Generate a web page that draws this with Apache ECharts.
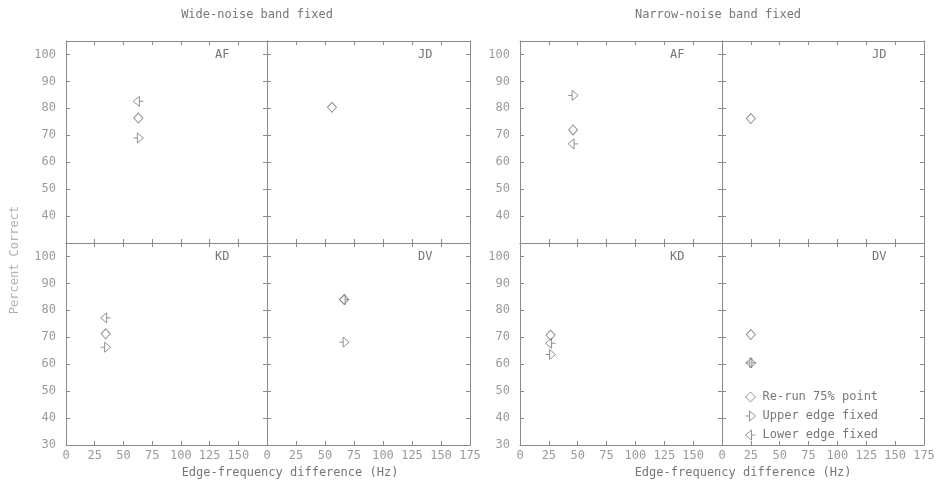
<!DOCTYPE html>
<html>
<head>
<meta charset="utf-8">
<script src="https://cdn.jsdelivr.net/npm/echarts@6/dist/echarts.min.js"></script>
<style>
  html, body { margin: 0; padding: 0; background: #fff; }
  #chart { width: 938px; height: 484px; }
</style>
</head>
<body>
<div id="chart"></div>
<script>
// Subjects, laid out AF | JD over KD | DV in each panel
const subjects = ['AF', 'JD', 'KD', 'DV'];
const panelTitles = ['Wide-noise band fixed', 'Narrow-noise band fixed'];
const seriesNames = ['Re-run 75% point', 'Upper edge fixed', 'Lower edge fixed'];

// [edge-frequency difference (Hz), percent correct] per subject; null = not measured
const wideRerun   = [[63, 76.4], [56, 80.4], [34.5, 71.3], [66.5, 84.0]];
const wideUpper   = [[63, 69.0], null,       [34.5, 66.3], [66.5, 68.2]];
const wideLower   = [[63, 82.6], null,       [34.5, 77.2], [66.5, 84.0]];
const narrowRerun = [[46, 72.0], [25, 76.2], [26.5, 70.8], [25, 71.0]];
const narrowUpper = [[46, 84.8], null,       [26.5, 63.6], [25, 60.5]];
const narrowLower = [[46, 66.8], null,       [26.5, 67.8], [25, 60.5]];

const xTicks = [0, 25, 50, 75, 100, 125, 150, 175];
const yTicks = [30, 40, 50, 60, 70, 80, 90, 100];
const yTop = 105;

const panelData = [
  [wideRerun, wideUpper, wideLower],
  [narrowRerun, narrowUpper, narrowLower]
];

// Layout of the two 2x2 panels (pixels)
const panelCols = [[66, 267, 470], [520, 722, 924]];
const rowEdges = [41, 243, 445];

const LINE = '#8a8a8a';
const LABEL = '#9a9a9a';
const TEXT = '#777';
const FONT = 'DejaVu Sans Mono';

const symDiamond = 'diamond';
const symUpper = 'path://M0,5L4,5M4,0L4,10L10,5Z';
const symLower = 'path://M10,5L6,5M6,0L6,10L0,5Z';
const symbols = [symDiamond, symUpper, symLower];
const symbolSizes = [[9, 10], [10, 10], [10, 10]];

const grids = [], xAxes = [], yAxes = [], series = [], graphics = [];

function axisCommon() {
  return {
    type: 'value',
    axisLine: { show: true, onZero: false, lineStyle: { color: LINE, width: 1 } },
    axisTick: { show: true, inside: true, length: 4, lineStyle: { color: LINE } },
    splitLine: { show: false },
    axisLabel: { show: false }
  };
}

panelCols.forEach((cols, p) => {
  subjects.forEach((subj, s) => {
    const row = Math.floor(s / 2), col = s % 2;
    const x0 = cols[col], x1 = cols[col + 1];
    const y0 = rowEdges[row], y1 = rowEdges[row + 1];
    const gi = grids.length;
    grids.push({ left: x0, top: y0, width: x1 - x0, height: y1 - y0 });

    const xb = Object.assign(axisCommon(), {
      gridIndex: gi, position: 'bottom',
      min: xTicks[0], max: xTicks[xTicks.length - 1], interval: 25
    });
    if (row === 1) {
      xb.axisLabel = {
        show: true, interval: 0, margin: 5, color: LABEL,
        fontFamily: FONT, fontSize: 12,
        formatter: v => (col === 0 && v === 175) ? '' : String(v)
      };
    }
    const xt = Object.assign(axisCommon(), {
      gridIndex: gi, position: 'top',
      min: xTicks[0], max: xTicks[xTicks.length - 1], interval: 25
    });
    xAxes.push(xb, xt);

    const yl = Object.assign(axisCommon(), {
      gridIndex: gi, position: 'left', min: yTicks[0], max: yTop, interval: 10
    });
    if (col === 0) {
      yl.axisLabel = {
        show: true, margin: 10, color: LABEL, fontFamily: FONT, fontSize: 12,
        formatter: v => (yTicks.indexOf(v) < 0 || (row === 0 && v === 30)) ? '' : String(v)
      };
    }
    const yr = Object.assign(axisCommon(), {
      gridIndex: gi, position: 'right', min: yTicks[0], max: yTop, interval: 10
    });
    yAxes.push(yl, yr);

    panelData[p].forEach((arr, k) => {
      const pt = arr[s];
      if (!pt) return;
      series.push({
        type: 'scatter',
        name: seriesNames[k],
        xAxisIndex: 2 * gi, yAxisIndex: 2 * gi,
        data: [pt],
        symbol: symbols[k],
        symbolSize: symbolSizes[k],
        symbolKeepAspect: true,
        itemStyle: { color: 'rgba(255,255,255,0)', borderColor: '#777', borderWidth: 1 },
        emphasis: { disabled: true },
        z: 5
      });
    });

    // subject label in the upper right of each cell
    graphics.push({
      type: 'text', left: x1 - 52, top: y0 + 8,
      style: { text: subj, font: '12px ' + FONT, fill: TEXT }
    });
  });

  // panel title and x-axis title
  graphics.push({
    type: 'text', x: p === 0 ? 257 : 718, y: 15,
    style: { text: panelTitles[p], font: '12px ' + FONT, fill: TEXT, textAlign: 'center', textVerticalAlign: 'middle' }
  });
  graphics.push({
    type: 'text', x: p === 0 ? 290 : 743, y: 473,
    style: { text: 'Edge-frequency difference (Hz)', font: '12px ' + FONT, fill: TEXT, textAlign: 'center', textVerticalAlign: 'middle' }
  });
});

// shared y-axis title
graphics.push({
  type: 'text', x: 15, y: 260, rotation: Math.PI / 2,
  style: { text: 'Percent Correct', font: '12px ' + FONT, fill: '#b0b0b0', textAlign: 'center', textVerticalAlign: 'middle' }
});

const chart = echarts.init(document.getElementById('chart'), null, { renderer: 'canvas' });
chart.setOption({
  animation: false,
  backgroundColor: '#fff',
  grid: grids,
  xAxis: xAxes,
  yAxis: yAxes,
  series: series,
  graphic: graphics,
  legend: {
    left: 740, top: 386, orient: 'vertical',
    itemGap: 7, itemWidth: 10, itemHeight: 10,
    selectedMode: false,
    textStyle: { color: TEXT, fontFamily: FONT, fontSize: 12, padding: [0, 0, 0, 2] },
    data: seriesNames.map((n, k) => ({
      name: n, icon: symbols[k],
      itemStyle: { color: 'rgba(255,255,255,0)', borderColor: '#777', borderWidth: 1 }
    }))
  }
});
</script>
</body>
</html>
